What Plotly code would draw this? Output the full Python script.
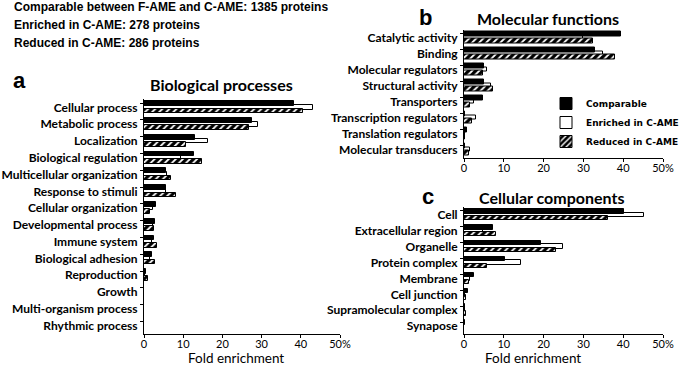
import plotly.graph_objects as go

W, H = 685, 366

# ---------------- data ----------------
bp_categories = ["Cellular process", "Metabolic process", "Localization", "Biological regulation",
                 "Multicellular organization", "Response to stimuli", "Cellular organization",
                 "Developmental process", "Immune system", "Biological adhesion", "Reproduction",
                 "Growth", "Multi-organism process", "Rhythmic process"]
bp_comparable = [38.3, 27.6, 13.0, 12.8, 5.6, 5.5, 3.0, 2.8, 2.5, 2.0, 0.6, 0.1, 0.1, 0.1]
bp_enriched   = [43.0, 29.2, 16.2, 9.5, 5.8, 5.5, 2.4, 2.4, 2.0, 1.5, 0.3, 0.1, 0.1, 0.0]
bp_reduced    = [40.6, 26.8, 10.7, 14.8, 6.9, 8.1, 1.5, 2.6, 3.4, 2.7, 1.0, 0.1, 0.0, 0.0]

mf_categories = ["Catalytic activity", "Binding", "Molecular regulators", "Structural activity",
                 "Transporters", "Transcription regulators", "Translation regulators",
                 "Molecular transducers"]
mf_comparable = [39.5, 32.8, 5.0, 5.0, 4.7, 0.3, 0.8, 0.2]
mf_enriched   = [30.0, 35.0, 5.8, 6.7, 2.5, 2.9, 0.3, 1.5]
mf_reduced    = [32.5, 37.9, 4.8, 7.3, 1.4, 2.1, 0.3, 1.2]

cc_categories = ["Cell", "Extracellular region", "Organelle", "Protein complex", "Membrane",
                 "Cell junction", "Supramolecular complex", "Synapose"]
cc_comparable = [40.1, 7.2, 19.3, 10.4, 2.5, 1.1, 0.3, 0.2]
cc_enriched   = [45.3, 4.7, 24.9, 14.4, 1.5, 0.3, 0.3, 0.1]
cc_reduced    = [36.1, 8.0, 23.0, 5.7, 1.2, 0.5, 0.5, 0.1]

x_tickvals = [0, 10, 20, 30, 40, 50]
x_ticktext = ["0", "10", "20", "30", "40", "50%"]

series_names = ["Comparable", "Enriched in C-AME", "Reduced in C-AME"]

header_lines = ["Comparable between F-AME and C-AME: 1385 proteins",
                "Enriched in C-AME: 278 proteins",
                "Reduced in C-AME: 286 proteins"]

# ---------------- helpers ----------------
def px_x(p):
    return p / W

def px_y(p):
    return 1 - p / H

LABEL_FONT = dict(family="Lato, Calibri, sans-serif", size=12, color="black", weight="bold")
TICK_FONT = dict(family="Lato, Calibri, sans-serif", size=11, color="black")

fig = go.Figure()

panels = [
    ("", bp_categories, bp_comparable, bp_enriched, bp_reduced, (144, 340), (99, 334)),
    ("2", mf_categories, mf_comparable, mf_enriched, mf_reduced, (464, 663), (29.5, 157.5)),
    ("3", cc_categories, cc_comparable, cc_enriched, cc_reduced, (464, 663), (207, 334)),
]

for idx, (sfx, cats, comp, enr, red, xd, yd) in enumerate(panels):
    pos = list(range(len(cats)))
    xa = "x" + sfx
    ya = "y" + sfx
    show = idx == 1
    # enriched (drawn first, behind)
    fig.add_trace(go.Bar(
        x=enr, y=pos, orientation="h", name=series_names[1], xaxis=xa, yaxis=ya,
        offset=-0.14, width=0.28,
        marker=dict(color="white", line=dict(color="black", width=1)),
        showlegend=show, legendrank=2))
    fig.add_trace(go.Bar(
        x=comp, y=pos, orientation="h", name=series_names[0], xaxis=xa, yaxis=ya,
        offset=-0.36, width=0.28,
        marker=dict(color="black", line=dict(color="black", width=1)),
        showlegend=show, legendrank=1))
    fig.add_trace(go.Bar(
        x=red, y=pos, orientation="h", name=series_names[2], xaxis=xa, yaxis=ya,
        offset=0.07, width=0.28,
        marker=dict(color="black", line=dict(color="black", width=1),
                    pattern=dict(shape="/", fillmode="replace", bgcolor="black",
                                 fgcolor="white", size=5, solidity=0.35)),
        showlegend=show, legendrank=3))

    n = len(cats)
    fig.update_layout(**{
        "xaxis" + sfx: dict(
            domain=[px_x(xd[0]), px_x(xd[1])], range=[0, 50], anchor=ya,
            tickmode="array", tickvals=x_tickvals, ticktext=x_ticktext,
            ticks="outside", ticklen=3, tickcolor="black", tickwidth=1,
            showline=True, linecolor="black", linewidth=1, showgrid=False, zeroline=False,
            tickfont=TICK_FONT, ticklabelstandoff=-3, automargin=False, fixedrange=True),
        "yaxis" + sfx: dict(
            domain=[px_y(yd[1]), px_y(yd[0])], range=[n - 0.5, -0.5], anchor=xa,
            tickmode="array", tickvals=pos, ticktext=cats, ticks="",
            minor=dict(tickmode="array", tickvals=[p - 0.25 for p in pos], ticks="outside",
                       ticklen=3, tickcolor="black"),
            showline=True, linecolor="black", linewidth=1, showgrid=False, zeroline=False,
            tickfont=LABEL_FONT, ticklabelstandoff=3, automargin=False, fixedrange=True),
    })

annotations = []
# header lines
for i, t in enumerate(header_lines):
    annotations.append(dict(text=t, x=px_x(12), y=px_y(7 + i * 18), xref="paper", yref="paper",
                            xanchor="left", yanchor="middle", showarrow=False,
                            font=dict(family="Liberation Sans, Arial", size=12, color="black",
                                      weight="bold")))
# panel titles
titles = [("Biological processes", 221, 84), ("Molecular functions", 548, 18),
          ("Cellular components", 551, 197)]
for t, x, y in titles:
    annotations.append(dict(text=t, x=px_x(x), y=px_y(y), xref="paper", yref="paper",
                            xanchor="center", yanchor="middle", showarrow=False,
                            font=dict(family="Lato, Calibri, sans-serif", size=16,
                                      color="black", weight="bold")))
letters = [("a", 19, 80), ("b", 426, 17), ("c", 428, 196)]
for t, x, y in letters:
    annotations.append(dict(text=t, x=px_x(x), y=px_y(y), xref="paper", yref="paper",
                            xanchor="center", yanchor="middle", showarrow=False,
                            font=dict(family="Liberation Sans, Arial", size=22,
                                      color="black", weight="bold")))
for x, y in [(236, 358), (533, 358)]:
    annotations.append(dict(text="Fold enrichment", x=px_x(x), y=px_y(y), xref="paper",
                            yref="paper", xanchor="center", yanchor="middle", showarrow=False,
                            font=dict(family="Lato, Calibri, sans-serif", size=13.5,
                                      color="black")))

fig.update_layout(
    template="none",
    width=W, height=H, margin=dict(l=0, r=0, t=0, b=0, autoexpand=False),
    paper_bgcolor="white", plot_bgcolor="white",
    barmode="overlay", bargap=0,
    annotations=annotations,
    legend=dict(x=px_x(546), y=px_y(89), xanchor="left", yanchor="top",
                bgcolor="rgba(0,0,0,0)", itemwidth=30, tracegroupgap=0,
                font=dict(family="DejaVu Sans, Verdana", size=9, color="black", weight="bold"),
                itemclick=False, itemdoubleclick=False),
    showlegend=True,
)

fig.write_html("out.html", config={"displayModeBar": False},
               post_script="document.body.style.margin='0px';document.body.style.overflow='hidden';")
